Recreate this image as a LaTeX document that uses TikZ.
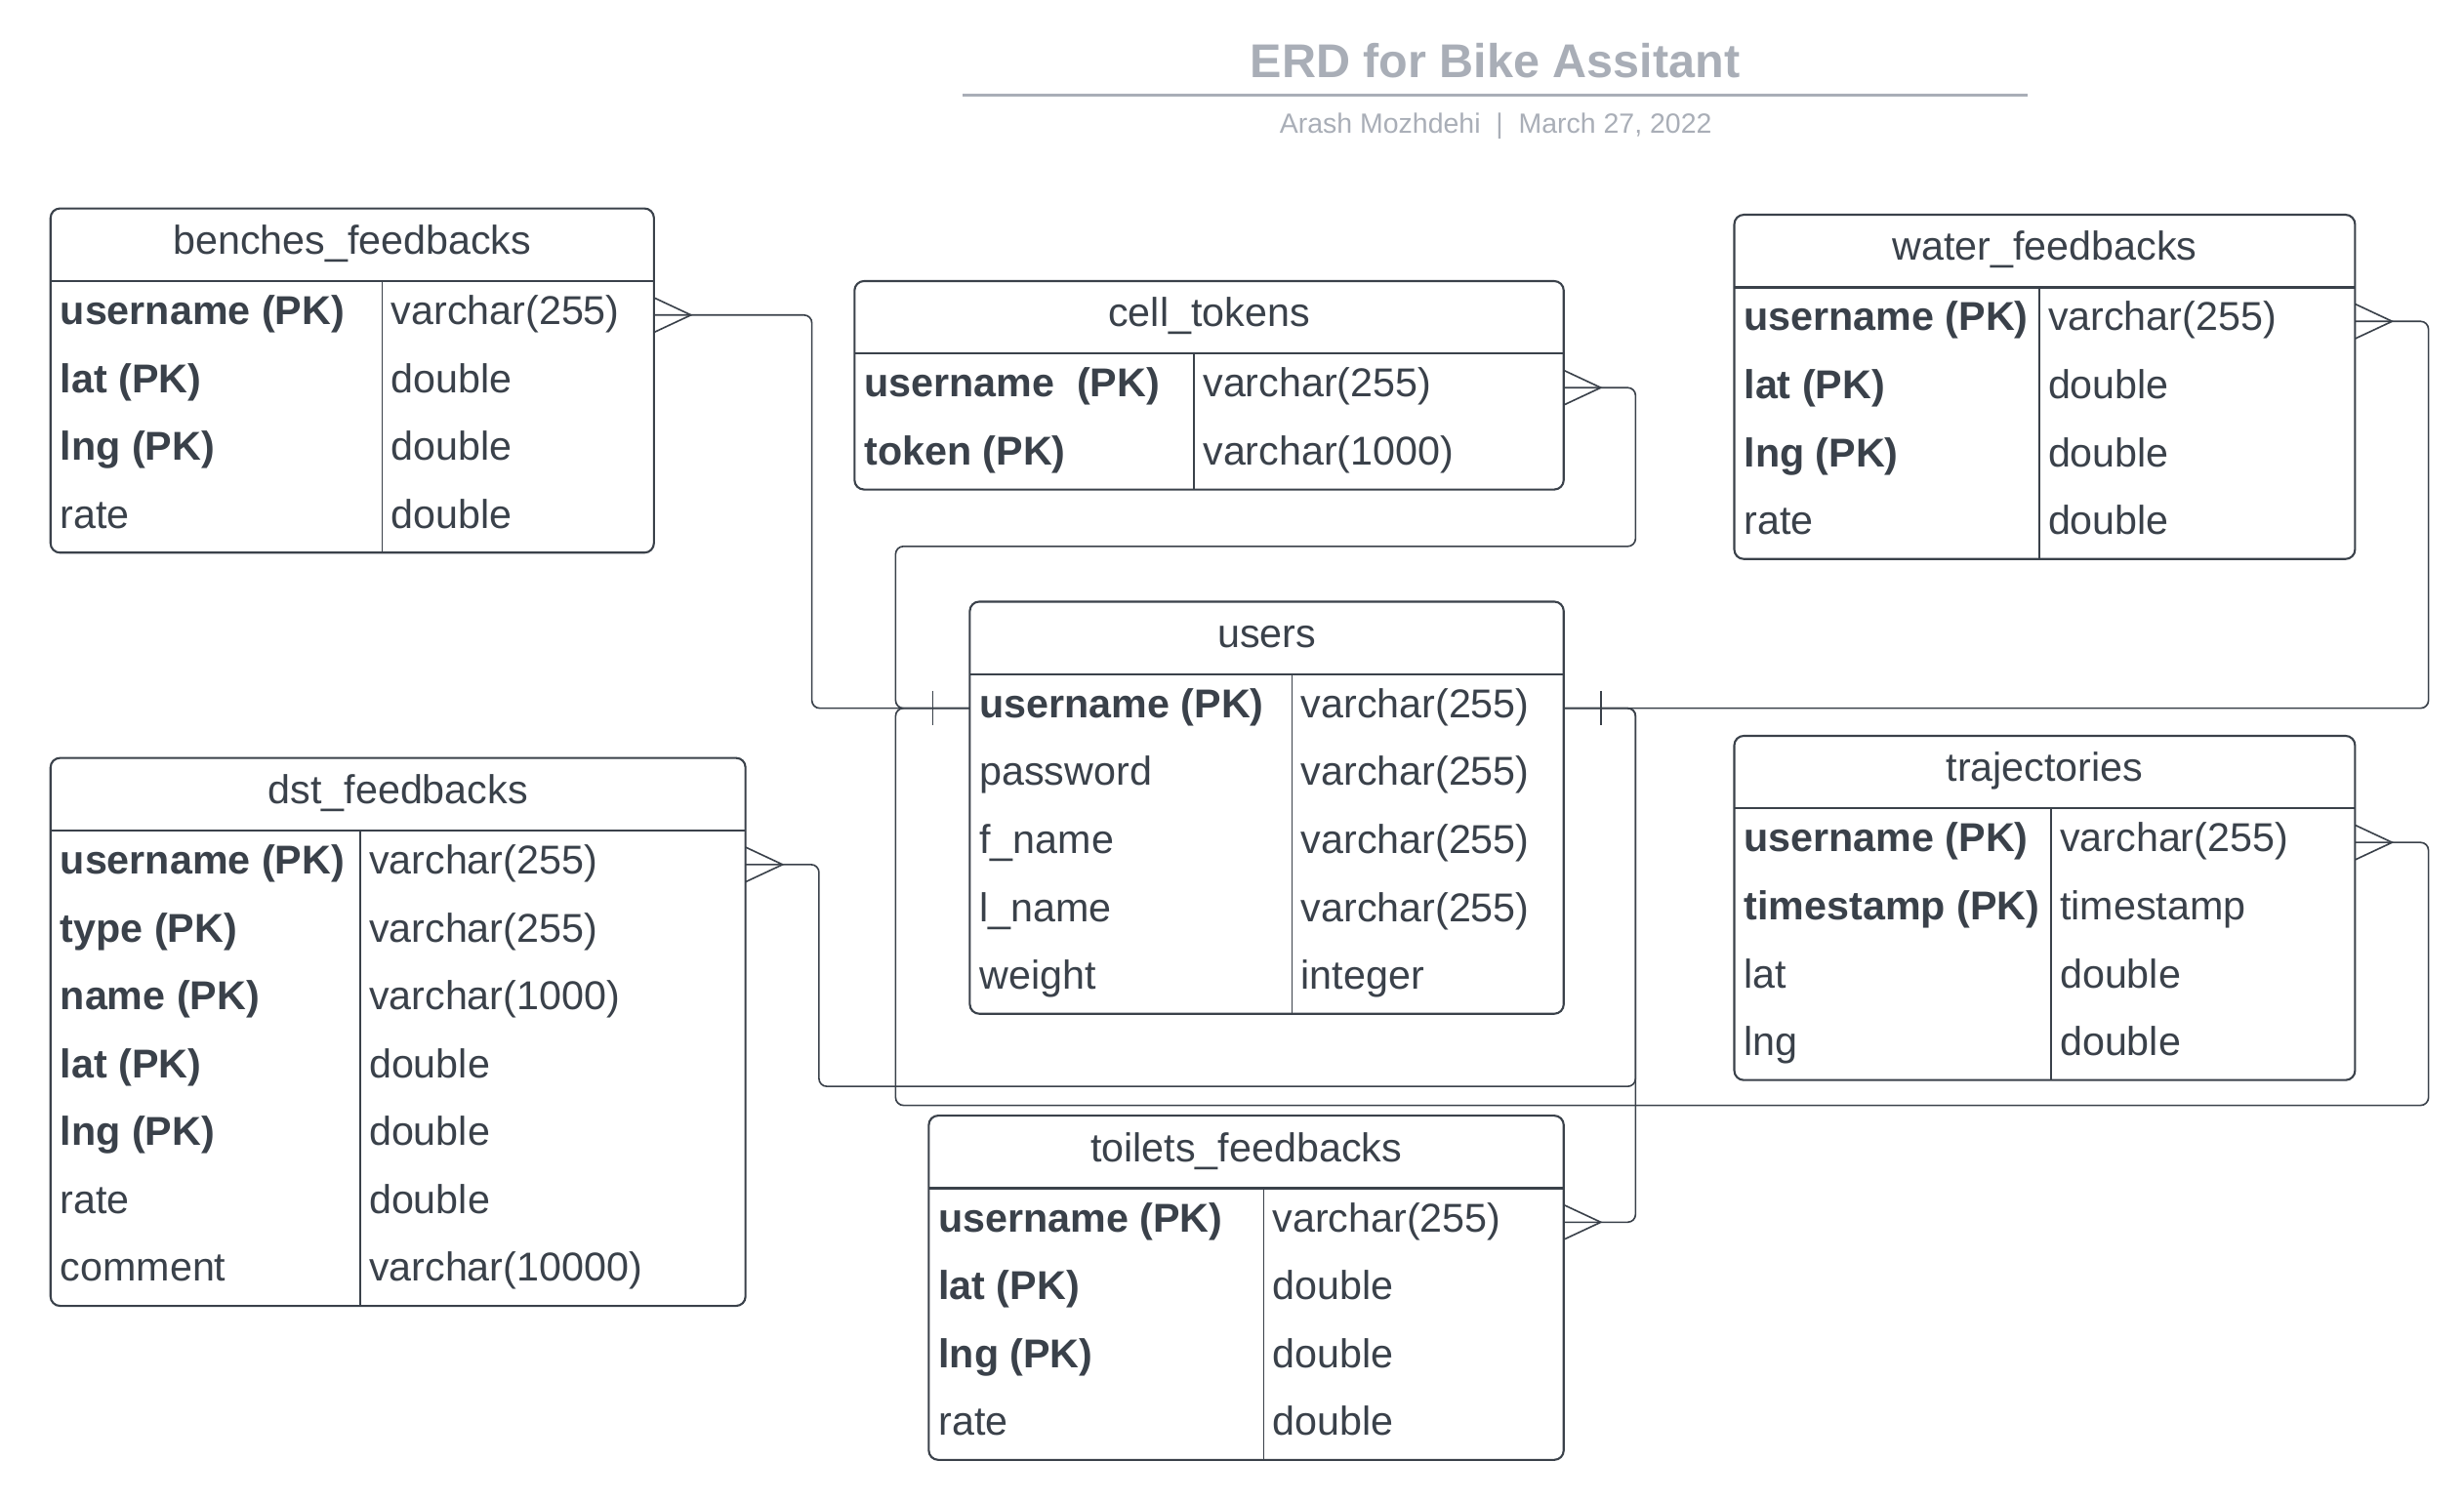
\documentclass[tikz,border=0pt]{standalone}
\usepackage{fontspec}
\setmainfont{Liberation Sans}

\definecolor{ink}{HTML}{3A414A}
\definecolor{titlegray}{HTML}{A9AEB7}

\begin{document}
\begin{tikzpicture}[ % one unit is one point, y runs down like the page
x=1pt, y=-1pt,
table_box/.style={rectangle, rounded corners=6pt, draw=ink, fill=white, line width=1.3pt, inner sep=0pt, outer sep=0pt, anchor=north west},
head_rule/.style={draw=ink, line width=1.3pt},
col_rule/.style={draw=ink, line width=1pt},
cell/.style={inner sep=0pt, text=ink, text height=18pt, text depth=6pt, font=\fontsize{25.5pt}{30pt}\selectfont},
head_text/.style={cell},
key_text/.style={cell, anchor=west},
pk_text/.style={key_text, font=\fontsize{25.5pt}{30pt}\selectfont\bfseries},
type_text/.style={key_text},
link/.style={draw=ink, line width=1pt, rounded corners=5pt},
many_end/.pic={\draw[ink, line width=1pt] (0,-11) -- (23.5,0) -- (0,11);},
one_end/.pic={\draw[ink, line width=1pt] (0,-11) -- (0,11);},
title_text/.style={inner sep=0pt, text=titlegray, font=\fontsize{30pt}{36pt}\selectfont\bfseries},
sub_text/.style={inner sep=0pt, text=titlegray, font=\fontsize{17.6pt}{21pt}\selectfont},
title_rule/.style={draw=titlegray, line width=2pt}
]
\useasboundingbox (0,0) rectangle (1560,950.6);

% title
\node[title_text, anchor=base](title) at (946.6,49.4) {ERD for Bike Assitant};
\draw[title_rule] (609.4,60.4) -- (1283.9,60.4);
\node[sub_text, anchor=base](subtitle) at (947,84.1) {Arash Mozhdehi\ \ |\ \ March 27, 2022};

% \node[table_box, minimum width=w, minimum height=h](name) at (top left) {};
% then header rule 46pt down, column rule, and one key/type pair per 43pt row
\node[table_box, minimum width=382pt, minimum height=218pt](benches) at (32,132) {};
\draw[head_rule] ([yshift=-46pt]benches.north west) -- ([yshift=-46pt]benches.north east);
\draw[col_rule] ([xshift=210pt, yshift=-46pt]benches.north west) -- ([xshift=210pt]benches.south west);
\node[head_text](benches_head) at ([yshift=-23pt]benches.north) {benches\_feedbacks};
\node[pk_text](benches_k1) at (38,199.5) {username (PK)};
\node[type_text](benches_t1) at (247.5,199.5) {varchar(255)};
\node[pk_text](benches_k2) at (38,242.5) {lat (PK)};
\node[type_text](benches_t2) at (247.5,242.5) {double};
\node[pk_text](benches_k3) at (38,285.5) {lng (PK)};
\node[type_text](benches_t3) at (247.5,285.5) {double};
\node[key_text](benches_k4) at (38,328.5) {rate};
\node[type_text](benches_t4) at (247.5,328.5) {double};

\node[table_box, minimum width=449pt, minimum height=132pt](cell_tokens) at (541,178) {};
\draw[head_rule] ([yshift=-46pt]cell_tokens.north west) -- ([yshift=-46pt]cell_tokens.north east);
\draw[col_rule] ([xshift=215pt, yshift=-46pt]cell_tokens.north west) -- ([xshift=215pt]cell_tokens.south west);
\node[head_text](cell_tokens_head) at ([yshift=-23pt]cell_tokens.north) {cell\_tokens};
\node[pk_text](cell_tokens_k1) at (547,245.5) {username\ \ (PK)};
\node[type_text](cell_tokens_t1) at (761.5,245.5) {varchar(255)};
\node[pk_text](cell_tokens_k2) at (547,288.5) {token (PK)};
\node[type_text](cell_tokens_t2) at (761.5,288.5) {varchar(1000)};

\node[table_box, minimum width=393pt, minimum height=218pt](water) at (1098,136) {};
\draw[head_rule] ([yshift=-46pt]water.north west) -- ([yshift=-46pt]water.north east);
\draw[col_rule] ([xshift=193pt, yshift=-46pt]water.north west) -- ([xshift=193pt]water.south west);
\node[head_text](water_head) at ([yshift=-23pt]water.north) {water\_feedbacks};
\node[pk_text](water_k1) at (1104,203.5) {username (PK)};
\node[type_text](water_t1) at (1296.5,203.5) {varchar(255)};
\node[pk_text](water_k2) at (1104,246.5) {lat (PK)};
\node[type_text](water_t2) at (1296.5,246.5) {double};
\node[pk_text](water_k3) at (1104,289.5) {lng (PK)};
\node[type_text](water_t3) at (1296.5,289.5) {double};
\node[key_text](water_k4) at (1104,332.5) {rate};
\node[type_text](water_t4) at (1296.5,332.5) {double};

\node[table_box, minimum width=376pt, minimum height=261pt](users) at (614,381) {};
\draw[head_rule] ([yshift=-46pt]users.north west) -- ([yshift=-46pt]users.north east);
\draw[col_rule] ([xshift=204pt, yshift=-46pt]users.north west) -- ([xshift=204pt]users.south west);
\node[head_text](users_head) at ([yshift=-23pt]users.north) {users};
\node[pk_text](users_k1) at (620,448.5) {username (PK)};
\node[type_text](users_t1) at (823.5,448.5) {varchar(255)};
\node[key_text](users_k2) at (620,491.5) {password};
\node[type_text](users_t2) at (823.5,491.5) {varchar(255)};
\node[key_text](users_k3) at (620,534.5) {f\_name};
\node[type_text](users_t3) at (823.5,534.5) {varchar(255)};
\node[key_text](users_k4) at (620,577.5) {l\_name};
\node[type_text](users_t4) at (823.5,577.5) {varchar(255)};
\node[key_text](users_k5) at (620,620.5) {weight};
\node[type_text](users_t5) at (823.5,620.5) {integer};

\node[table_box, minimum width=440pt, minimum height=347pt](dst) at (32,480) {};
\draw[head_rule] ([yshift=-46pt]dst.north west) -- ([yshift=-46pt]dst.north east);
\draw[col_rule] ([xshift=196pt, yshift=-46pt]dst.north west) -- ([xshift=196pt]dst.south west);
\node[head_text](dst_head) at ([yshift=-23pt]dst.north) {dst\_feedbacks};
\node[pk_text](dst_k1) at (38,547.5) {username (PK)};
\node[type_text](dst_t1) at (233.5,547.5) {varchar(255)};
\node[pk_text](dst_k2) at (38,590.5) {type (PK)};
\node[type_text](dst_t2) at (233.5,590.5) {varchar(255)};
\node[pk_text](dst_k3) at (38,633.5) {name (PK)};
\node[type_text](dst_t3) at (233.5,633.5) {varchar(1000)};
\node[pk_text](dst_k4) at (38,676.5) {lat (PK)};
\node[type_text](dst_t4) at (233.5,676.5) {double};
\node[pk_text](dst_k5) at (38,719.5) {lng (PK)};
\node[type_text](dst_t5) at (233.5,719.5) {double};
\node[key_text](dst_k6) at (38,762.5) {rate};
\node[type_text](dst_t6) at (233.5,762.5) {double};
\node[key_text](dst_k7) at (38,805.5) {comment};
\node[type_text](dst_t7) at (233.5,805.5) {varchar(10000)};

\node[table_box, minimum width=393pt, minimum height=218pt](trajectories) at (1098,466) {};
\draw[head_rule] ([yshift=-46pt]trajectories.north west) -- ([yshift=-46pt]trajectories.north east);
\draw[col_rule] ([xshift=200.6pt, yshift=-46pt]trajectories.north west) -- ([xshift=200.6pt]trajectories.south west);
\node[head_text](trajectories_head) at ([yshift=-23pt]trajectories.north) {trajectories};
\node[pk_text](trajectories_k1) at (1104,533.5) {username (PK)};
\node[type_text](trajectories_t1) at (1304,533.5) {varchar(255)};
\node[pk_text](trajectories_k2) at (1104,576.5) {timestamp (PK)};
\node[type_text](trajectories_t2) at (1304,576.5) {timestamp};
\node[key_text](trajectories_k3) at (1104,619.5) {lat};
\node[type_text](trajectories_t3) at (1304,619.5) {double};
\node[key_text](trajectories_k4) at (1104,662.5) {lng};
\node[type_text](trajectories_t4) at (1304,662.5) {double};

\node[table_box, minimum width=402pt, minimum height=218pt](toilets) at (588,706.5) {};
\draw[head_rule] ([yshift=-46pt]toilets.north west) -- ([yshift=-46pt]toilets.north east);
\draw[col_rule] ([xshift=212pt, yshift=-46pt]toilets.north west) -- ([xshift=212pt]toilets.south west);
\node[head_text](toilets_head) at ([yshift=-23pt]toilets.north) {toilets\_feedbacks};
\node[pk_text](toilets_k1) at (594,774) {username (PK)};
\node[type_text](toilets_t1) at (805.5,774) {varchar(255)};
\node[pk_text](toilets_k2) at (594,817) {lat (PK)};
\node[type_text](toilets_t2) at (805.5,817) {double};
\node[pk_text](toilets_k3) at (594,860) {lng (PK)};
\node[type_text](toilets_t3) at (805.5,860) {double};
\node[key_text](toilets_k4) at (594,903) {rate};
\node[type_text](toilets_t4) at (805.5,903) {double};

% \draw[link](table.east |- row) -- ++(out,0) |- (bend) |- (users.west/east |- users_t1);
% crow's foot on the feedback side, bar on the users side
\draw[link](benches.east |- benches_t1) -- ++(100,0) |- (users.west |- users_t1);
\draw[link](cell_tokens.east |- cell_tokens_t1) -- ++(45.5,0) |- (567,346) |- (users.west |- users_t1);
\draw[link](trajectories.east |- trajectories_t1) -- ++(46.5,0) |- (567,700) |- (users.west |- users_t1);
\draw[link](water.east |- water_t1) -- ++(46.5,0) |- (users.east |- users_t1);
\draw[link](dst.east |- dst_t1) -- ++(46.5,0) |- (1035.5,688) |- (users.east |- users_t1);
\draw[link](toilets.east |- toilets_t1) -- ++(45.5,0) |- (users.east |- users_t1);

\pic at (benches.east |- benches_t1) {many_end};
\pic at (cell_tokens.east |- cell_tokens_t1) {many_end};
\pic at (water.east |- water_t1) {many_end};
\pic at (dst.east |- dst_t1) {many_end};
\pic at (trajectories.east |- trajectories_t1) {many_end};
\pic at (toilets.east |- toilets_t1) {many_end};
\pic[xshift=-23.5pt] at (users.west |- users_t1) {one_end};
\pic[xshift=23.5pt] at (users.east |- users_t1) {one_end};
\end{tikzpicture}
\end{document}
